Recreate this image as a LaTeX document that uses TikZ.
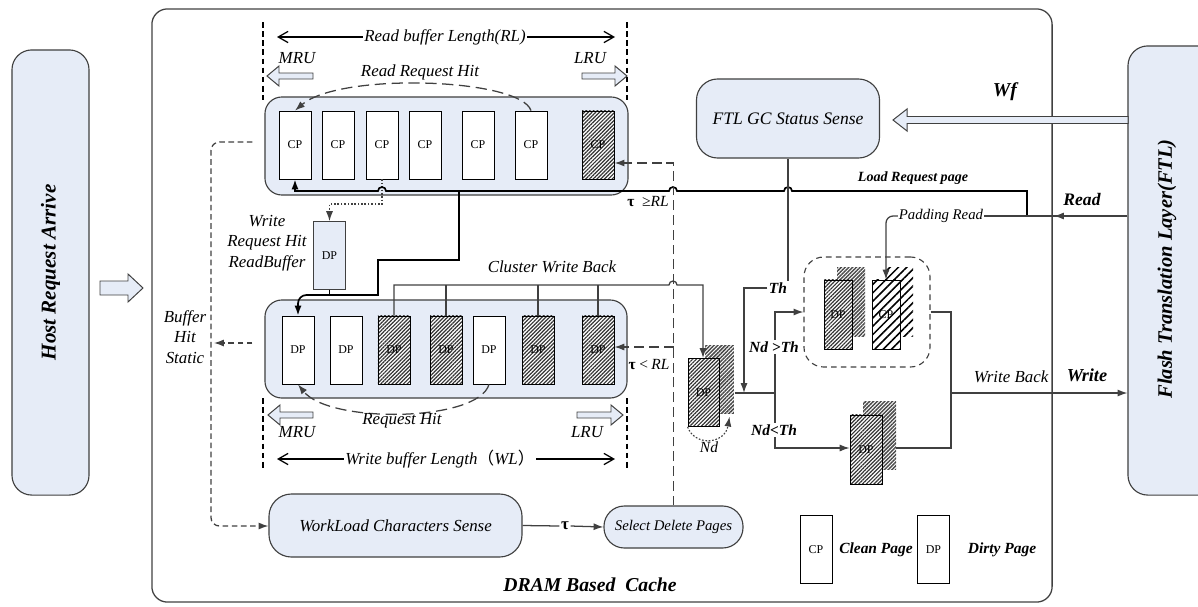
\documentclass[tikz,border=0pt]{standalone}
\usepackage{fontspec}
\setmainfont{Liberation Serif}
\newfontfamily\cjk{Noto Sans CJK SC}
\usetikzlibrary{arrows.meta,patterns.meta,calc}

\definecolor{boxblue}{HTML}{E6ECF7}
\definecolor{linegray}{HTML}{404040}
\definecolor{hatchgray}{HTML}{333333}
\definecolor{shadegray}{HTML}{4A4A4A}

\newcommand{\fs}[1]{\fontsize{#1}{#1}\selectfont}
\newcommand{\fatarrow}[6]{% from x, to x, y, head length, half shaft, half head
  \pgfmathsetmacro{\fatbase}{#2-(#4)}
  \draw[hollow] (#1,#3-#5) -- (\fatbase,#3-#5) -- (\fatbase,#3-#6) -- (#2,#3)
    -- (\fatbase,#3+#6) -- (\fatbase,#3+#5) -- (#1,#3+#5) -- cycle;}

\tikzset{
  panel/.style={draw=linegray, fill=boxblue, line width=0.8pt, rounded corners=#1, inner sep=0pt},
  panel/.default=14pt,
  cpage/.style={draw=black, fill=white, line width=0.6pt, minimum width=0.8cm,
    minimum height=1.7cm, inner sep=0pt, font=\fs{8.5}},
  hpage/.style={cpage, preaction={fill=white},
    pattern={Lines[angle=45,distance=1.9pt,line width=0.85pt]}, pattern color=hatchgray},
  wpage/.style={cpage, preaction={fill=white},
    pattern={Lines[angle=45,distance=4.2pt,line width=1.1pt]}, pattern color=black},
  backpage/.style={inner sep=0pt, minimum width=0.72cm, minimum height=1.72cm,
    preaction={fill=white}, pattern={Lines[angle=45,distance=1.9pt,line width=1.05pt]},
    pattern color=shadegray},
  lab/.style={inner sep=1pt, font=\fs{12}\itshape},
  blab/.style={inner sep=1pt, font=\fs{11}\bfseries\itshape},
  conn/.style={draw=linegray, line width=0.9pt},
  boldline/.style={draw=black, line width=1.2pt},
  dotline/.style={draw=linegray, line width=0.8pt, dash pattern=on 1.2pt off 1.2pt},
  tauline/.style={draw=linegray, line width=0.9pt, dash pattern=on 7pt off 3.5pt},
  hitline/.style={draw=linegray, line width=0.9pt, dash pattern=on 4pt off 2.5pt},
  arcline/.style={draw=linegray, line width=0.9pt, dash pattern=on 8pt off 4pt},
  bound/.style={draw=black, line width=0.8pt, dash pattern=on 4pt off 2.5pt},
  dimline/.style={draw=black, line width=0.9pt,
    arrows={Straight Barb[length=7pt,width=8pt]-Straight Barb[length=7pt,width=8pt]}},
  hollow/.style={draw=linegray, fill=boxblue, line width=0.7pt, line join=miter},
}

\begin{document}
\begin{tikzpicture}[x=0.025cm, y=-0.025cm, >={Latex[length=7pt,width=5pt]}]
  \clip (0,0) rectangle (1198,606);

  % frames
  \node[draw=linegray, line width=0.9pt, rounded corners=11pt, minimum width=22.5cm,
    minimum height=14.825cm] (dram) at (602,305.5) {};
  \node[panel, minimum width=1.925cm, minimum height=11.125cm] (host) at (50.5,272.5) {};
  \node[rotate=90, font=\fs{15}\bfseries\itshape] (hosttext) at (host) {Host Request Arrive};
  \node[panel, minimum width=2.3cm, minimum height=11.225cm] (ftl) at (1174,270.5) {};
  \node[rotate=90, font=\fs{14.6}\bfseries\itshape] (ftltext) at (1167,269) {Flash Translation Layer(FTL)};
  \node[font=\fs{14}\bfseries\itshape] (dramlab) at (590,585) {DRAM Based\ \ Cache};
  \fatarrow{100}{143}{288}{15}{7}{14}
  \fatarrow{1128}{893}{120}{-14}{3.5}{11}
  \node[font=\fs{14}\bfseries\itshape] (wf) at (1005,92) {Wf};

  % read buffer
  \draw[bound] (263,22) -- (263,100);
  \draw[bound] (627,22) -- (627,100);
  \draw[dimline] (277,37) -- (615,37);
  \node[lab, fill=white] (rllab) at (445,37) {Read buffer Length(RL)};
  \node[lab] (mru1) at (297,58) {MRU};
  \node[lab] (lru1) at (590,58) {LRU};
  \node[lab] (rrh) at (420,72) {Read Request Hit};
  \fatarrow{313}{267}{76}{-12}{3}{10}
  \fatarrow{582}{627}{76}{12}{3}{10}
  \node[panel=12pt, minimum width=9.075cm, minimum height=2.45cm] (rbuf) at (446.5,146) {};
  \foreach \x/\n in {295/1,338/2,382/3,425/4,478/5,531/6}
    \node[cpage] (r\n) at (\x,145) {CP};
  \node[hpage] (r7) at (598,145) {CP};
  \draw[arcline, ->] (r6.north) .. controls (520,78) and (340,72) .. (r1.north);

  % write buffer
  \node[panel=12pt, minimum width=9.05cm, minimum height=2.45cm] (wbuf) at (446,349) {};
  \foreach \x/\n/\k in {298/1/cpage,346/2/cpage,394/3/hpage,446/4/hpage,489/5/cpage,538/6/hpage,598/7/hpage}
    \node[\k] (w\n) at (\x,350) {DP};
  \draw[arcline, ->] (w5.south) .. controls (478,422) and (330,424) .. (w1.south);
  \draw[bound] (263,398) -- (263,470);
  \draw[bound] (627,398) -- (627,470);
  \fatarrow{313}{268}{415}{-12}{3}{10}
  \fatarrow{577}{623}{415}{12}{3}{10}
  \node[lab] (rh) at (402,421) {Request Hit};
  \node[lab] (mru2) at (297,432) {MRU};
  \node[lab] (lru2) at (587,432) {LRU};
  \draw[dimline] (277,459) -- (615,459);
  \node[lab, fill=white] (wllab) at (440,459) {Write buffer Length{\cjk （}WL{\cjk ）}};

  % write request hit read buffer
  \node[cpage, fill=boxblue, draw=linegray] (dpw) at (329.5,255.5) {DP};
  \node[lab, align=center, font=\fontsize{12}{14.5}\selectfont\itshape] (wrh) at (267,243) {Write\\Request Hit\\ReadBuffer};
  \draw[dotline, ->] (r3.south) -- (382,204) -- (dpw.north |- 0,204) -- (dpw.north);
  \draw[boldline, <-] (r1.south) -- (r1.south |- 0,191) -- (378,191)
    arc[start angle=180, end angle=360, radius=4] -- (669,191)
    arc[start angle=180, end angle=360, radius=4] -- (784,191)
    arc[start angle=180, end angle=360, radius=4] -- (1027,191) -- (1027,216);
  \draw[boldline, ->] (459,191) -- (459,260) -- (378,260) -- (378,295)
    [rounded corners=6pt] -- (w1.north |- 0,295) -- (w1.north);
  \draw[boldline] (dpw.south) -- (dpw.south |- 0,295);
  \node[blab, font=\fs{10}\bfseries\itshape] (lrp) at (913,178) {Load Request page};

  % workload sense
  \node[panel=16pt, minimum width=6.325cm, minimum height=1.575cm, font=\fs{12}\itshape] (wl) at (395.5,525.5) {WorkLoad Characters Sense};
  \node[panel=14.5pt, minimum width=3.475cm, minimum height=1.05cm, font=\fs{10.5}\itshape] (sel) at (673.5,527) {Select Delete Pages};
  \node[font=\fs{12}\bfseries, inner sep=1pt] (tau) at (565,526) {τ};
  \draw[conn] (wl.east) -- (tau.west);
  \draw[conn, ->] (tau.east) -- (sel.west);
  \draw[tauline, ->] (sel.north) -- (sel.north |- 0,163) -- (r7.east |- 0,163);
  \draw[tauline, ->] (sel.north |- 0,347) -- (w7.east |- 0,347);
  \node[lab, font=\fs{11}\itshape] (tge) at (648,202) {{\upshape\bfseries τ}\enspace≥RL};
  \node[lab, font=\fs{11}\itshape] (tlt) at (649,365) {{\upshape\bfseries τ}\,<\,RL};

  % buffer hit static
  \draw[hitline, ->, rounded corners=6pt] ($(rbuf.west)+(-12,-4)$) -- (211,142) -- (211,526) -- (wl.west |- 0,526);
  \coordinate (bh) at (214,343);
  \draw[hitline, ->] ($(wbuf.west)+(-12,-6)$) -- (bh);
  \node[lab, align=center, font=\fontsize{12}{14.5}\selectfont\itshape] (bhs) at (185,337) {Buffer\\Hit\\Static};

  % cluster write back
  \node[lab] (cwb) at (552,267) {Cluster Write Back};
  \node[backpage] (m2) at (719.5,379.5) {};
  \node[hpage, minimum width=0.775cm] (m1) at (703.5,392.5) {DP};
  \draw[conn, ->] (w3.north) -- (w3.north |- 0,285) -- (669,285)
    arc[start angle=180, end angle=360, radius=4] -- (703,285) -- (m1.north -| 703,0);
  \foreach \n in {4,6,7}
    \draw[conn] (w\n.north) -- (w\n.north |- 0,285);
  \draw[dotline, ->] (m1.south west) .. controls (695,447) and (725,444) .. ($(m2.south)+(10,2)$);
  \node[lab, font=\fs{11}\itshape] (nd) at (709,447) {Nd};

  % GC status and threshold
  \node[panel=15pt, minimum width=4.575cm, minimum height=1.975cm, font=\fs{12.5}\itshape] (gc) at (788,118.5) {FTL GC Status Sense};
  \node[blab] (th) at (778,288) {Th};
  \draw[conn] (gc.south) -- (gc.south |- th.north);
  \draw[conn, ->] (th.west) -- (744,288) -- (744,393);
  \draw[conn] (m2.east |- 0,393) -- (775,393);

  % dirty page groups
  \node[draw=linegray, line width=0.8pt, dash pattern=on 4pt off 3pt, rounded corners=14pt,
    minimum width=3.15cm, minimum height=2.75cm] (dbox) at (867,312) {};
  \node[backpage, minimum width=0.7cm] (g2) at (851,302) {};
  \node[hpage, minimum width=0.7cm, minimum height=1.725cm] (g1) at (838,314.5) {DP};
  \node[backpage, minimum width=0.7cm, pattern={Lines[angle=45,distance=4.2pt,line width=1.1pt]}, pattern color=black] (c2) at (899,302) {};
  \node[wpage, minimum width=0.7cm, minimum height=1.725cm] (c1) at (886,314.5) {CP};
  \node[backpage, minimum width=0.825cm] (l2) at (879.5,435.5) {};
  \node[hpage, minimum width=0.8cm, minimum height=1.725cm] (l1) at (866,449.5) {DP};
  \draw[conn, ->] (775,393) -- (775,312) -- (dbox.west |- 0,312);
  \draw[conn, ->] (775,393) -- (775,448) -- (l1.west |- 0,448);
  \node[blab, fill=white] (ndg) at (774,347) {Nd >Th};
  \node[blab, fill=white] (ndl) at (774,430) {Nd<Th};

  % flash side
  \draw[conn] (dbox.east |- 0,312) -- (951,312) -- (951,448) -- (l2.east |- 0,448);
  \draw[conn, ->] (951,393) -- (ftl.west |- 0,393);
  \node[lab] (wb) at (1011,377) {Write Back};
  \node[font=\fs{13}\bfseries\itshape] (wr) at (1087,375) {Write};
  \node[lab, font=\fs{10.5}\itshape, inner sep=0.5pt] (pad) at (941,216) {Padding Read};
  \draw[conn] (ftl.west |- 0,216) -- (pad.east);
  \draw[conn, ->] (ftl.west |- 0,216) -- (1054,216);
  \draw[conn, ->, rounded corners=5pt] (pad.west) -- (886,216) -- (c1.north);
  \node[font=\fs{12.5}\bfseries\itshape] (rd) at (1082,199) {Read};

  % legend
  \node[cpage] (lcp) at (816,549.5) {CP};
  \node[blab] (lclean) at (876,550) {Clean Page};
  \node[cpage] (ldp) at (933.5,549.5) {DP};
  \node[blab] (ldirty) at (1002,550) {Dirty Page};
\end{tikzpicture}
\end{document}
